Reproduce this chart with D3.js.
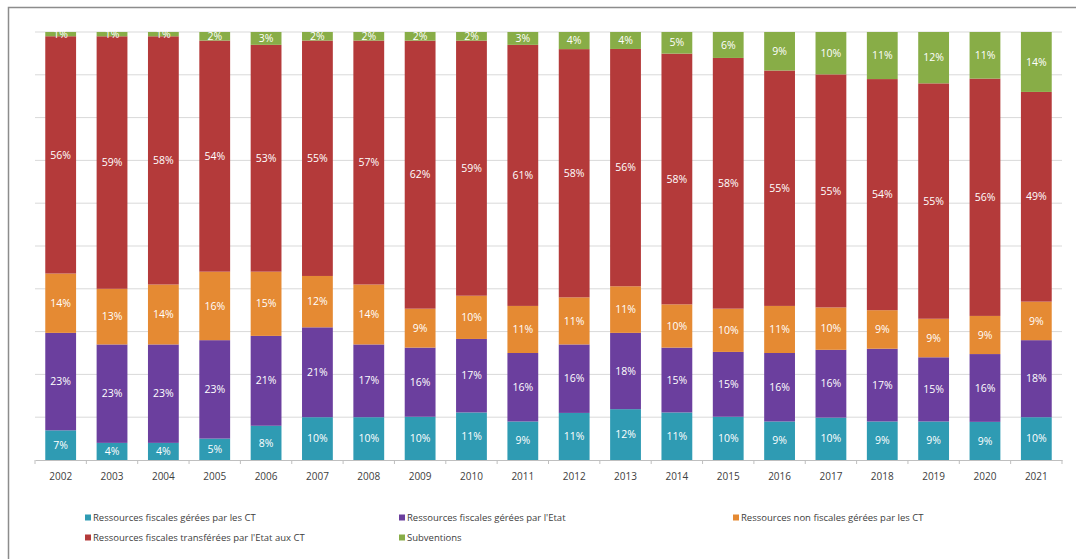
<!DOCTYPE html>
<html><head><meta charset="utf-8">
<script src="https://cdn.jsdelivr.net/npm/d3@7/dist/d3.min.js"></script>
<style>body{margin:0;background:#fff}svg{display:block}</style>
</head><body><svg id="c" width="1076" height="559"></svg>
<script>
const years = ["2002","2003","2004","2005","2006","2007","2008","2009","2010","2011","2012","2013","2014","2015","2016","2017","2018","2019","2020","2021"];
const fiscalesCT   = [7,4,4,5,8,10,10,10,11,9,11,12,11,10,9,10,9,9,9,10];
const fiscalesEtat = [23,23,23,23,21,21,17,16,17,16,16,18,15,15,16,16,17,15,16,18];
const nonFiscales  = [14,13,14,16,15,12,14,9,10,11,11,11,10,10,11,10,9,9,9,9];
const transferees  = [56,59,58,54,53,55,57,62,59,61,58,56,58,58,55,55,54,55,56,49];
const subventions  = [1,1,1,2,3,2,2,2,2,3,4,4,5,6,9,10,11,12,11,14];
const seriesNames = ["Ressources fiscales gérées par les CT","Ressources fiscales gérées par l'Etat","Ressources non fiscales gérées par les CT","Ressources fiscales transférées par l'Etat aux CT","Subventions"];
const seriesValues = [fiscalesCT, fiscalesEtat, nonFiscales, transferees, subventions];
const colors = ["#2f9bb3","#6b3f9e","#e58a33","#b43a3a","#88ad47"];

(function(){
const svg = d3.select("#c");
const font = "'Open Sans', 'DejaVu Sans', sans-serif";

// frame
svg.append("rect").attr("x",8.5).attr("y",7.5).attr("width",1100).attr("height",600)
  .attr("fill","none").attr("stroke","#8c8c8c").attr("stroke-width",1.5);

const pl = 35, pr = 1062, pt = 32, pb = 460;
const x = d3.scaleBand().domain(years).range([pl,pr]).paddingInner(0.4).paddingOuter(0.2);
const y = d3.scaleLinear().domain([0,1]).range([pb,pt]);

// gridlines
svg.append("g").selectAll("line").data(d3.range(1,11).map(i=>i/10)).join("line")
  .attr("x1",pl).attr("x2",pr).attr("y1",d=>y(d)).attr("y2",d=>y(d))
  .attr("stroke","#d9d9d9").attr("stroke-width",1);

const rows = years.map((yr,i)=>{const o={year:yr}; seriesNames.forEach((n,k)=>o[n]=seriesValues[k][i]); return o;});
const stack = d3.stack().keys(seriesNames).offset(d3.stackOffsetExpand);
const layers = stack(rows);

const g = svg.append("g");
layers.forEach((layer,k)=>{
  const lg = g.append("g");
  lg.selectAll("rect").data(layer).join("rect")
    .attr("x",d=>x(d.data.year)).attr("width",x.bandwidth())
    .attr("y",d=>y(d[1])).attr("height",d=>y(d[0])-y(d[1]))
    .attr("fill",colors[k]);
  lg.selectAll("text").data(layer).join("text")
    .attr("x",d=>x(d.data.year)+x.bandwidth()/2)
    .attr("y",d=>(y(d[0])+y(d[1]))/2)
    .attr("dy","0.35em").attr("text-anchor","middle")
    .attr("font-family",font).attr("font-size",10.5).attr("fill","#fff")
    .text(d=>d.data[layer.key]+"%");
});

// x axis
const xAxis = d3.axisBottom(x).tickSize(0).tickPadding(13);
const ax = svg.append("g").attr("transform",`translate(0,${pb})`).call(xAxis);
ax.select(".domain").attr("stroke","#bfbfbf");
ax.selectAll("text").attr("font-family",font).attr("font-size",10).attr("fill","#404040");
const step = x.step();
const bounds = d3.range(years.length+1).map(i=> i===0? pl : (i===years.length? pr : x(years[i]) - x.paddingInner()*step/2));
svg.append("g").selectAll("line").data(bounds).join("line")
  .attr("x1",d=>d).attr("x2",d=>d).attr("y1",pb).attr("y2",pb+4)
  .attr("stroke","#bfbfbf");

// legend
const legendPos = [[85,518],[399,518],[733,518],[85,538],[399,538]];
const leg = svg.append("g");
seriesNames.forEach((n,k)=>{
  const [lx,ly] = legendPos[k];
  leg.append("rect").attr("x",lx).attr("y",ly-3.5).attr("width",6).attr("height",6).attr("fill",colors[k]);
  leg.append("text").attr("x",lx+8).attr("y",ly).attr("dy","0.35em")
    .attr("font-family",font).attr("font-size",9.5).attr("fill","#404040").text(n);
});
})();
</script></body></html>
